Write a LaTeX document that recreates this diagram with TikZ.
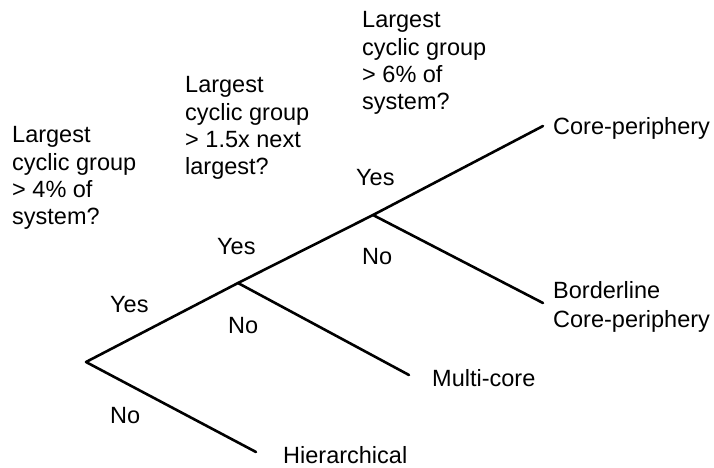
\documentclass[tikz,border=0pt]{standalone}
\usepackage{fontspec}
\setmainfont{Liberation Sans}
\begin{document}
\begin{tikzpicture}[x=1pt,y=-1pt,
  lbl/.style={inner sep=0pt, anchor=base west, font=\fontsize{23.5}{27.3}\selectfont},
  qbox/.style={inner sep=0pt, anchor=north west, align=left, font=\fontsize{23.5}{27.3}\selectfont},
  branch/.style={line width=2.6pt, line cap=round, line join=round}]
\useasboundingbox (0,0) rectangle (714,467);
% tree points
\coordinate (root) at (86,362);
\coordinate (b1) at (238,283);
\coordinate (b2) at (373,215);
\coordinate (cpend) at (543,126);
\coordinate (bcpend) at (543,303);
\coordinate (mcend) at (409,375);
\coordinate (hend) at (256,452);
\draw[branch] (root) -- (b1);
\draw[branch] (b1) -- (b2);
\draw[branch] (b2) -- (cpend);
\draw[branch] (b2) -- (bcpend);
\draw[branch] (b1) -- (mcend);
\draw[branch] (root) -- (hend);
% questions
\node[qbox] (q1) at (12,126.5) {Largest\\cyclic group\\> 4\% of\\system?};
\node[qbox] (q2) at (185,76.5) {Largest\\cyclic group\\> 1.5x next\\largest?};
\node[qbox] (q3) at (362,11.5) {Largest\\cyclic group\\> 6\% of\\system?};
% branch labels
\node[lbl] (y1) at (110,312) {Yes};
\node[lbl] (n1) at (110,423) {No};
\node[lbl] (y2) at (217,254) {Yes};
\node[lbl] (n2) at (228,333) {No};
\node[lbl] (y3) at (356,185) {Yes};
\node[lbl] (n3) at (362,264) {No};
% outcomes
\node[lbl] (cp) at (553,134) {Core-periphery};
\node[lbl] (bcp) at (553,298) {Borderline};
\node[lbl] (bcp2) at (553,327) {Core-periphery};
\node[lbl] (mc) at (432,386) {Multi-core};
\node[lbl] (hi) at (283,463) {Hierarchical};
\end{tikzpicture}
\end{document}
